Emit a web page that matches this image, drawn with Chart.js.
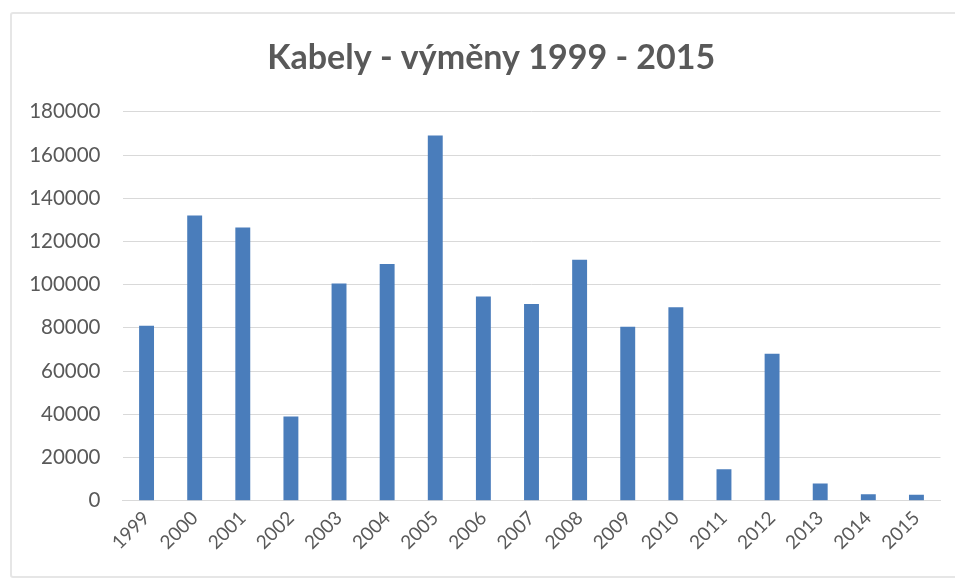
<!DOCTYPE html>
<html>
<head>
<meta charset="utf-8">
<script src="https://cdn.jsdelivr.net/npm/chart.js@4.4.1/dist/chart.umd.min.js"></script>
<style>
  html, body { margin: 0; padding: 0; background: #fff; }
  #wrap { position: relative; width: 955px; height: 583px; overflow: hidden; }
  #frame { position: absolute; left: 10px; top: 12px; width: 960px; height: 566px; border: 2px solid #e6e6e6; border-radius: 3px; box-sizing: border-box; }
  canvas { position: absolute; left: 0; top: 0; }
</style>
</head>
<body>
<div id="wrap">
  <div id="frame"></div>
  <canvas id="c" width="955" height="583"></canvas>
</div>
<script>
const chartTitle = "Kabely - výměny 1999 - 2015";
const years = ["1999","2000","2001","2002","2003","2004","2005","2006","2007","2008","2009","2010","2011","2012","2013","2014","2015"];
const replacements = [81000, 132000, 126500, 39000, 100500, 109500, 169000, 94500, 91000, 111500, 80500, 89500, 14500, 68000, 8000, 3000, 2800];
const yTicks = [0, 20000, 40000, 60000, 80000, 100000, 120000, 140000, 160000, 180000];

const grey = '#595959';
const gridCol = '#d9d9d9';

const shiftTitle = {
  id: 'shiftTitle',
  afterLayout(chart) {
    if (chart.titleBlock) { chart.titleBlock.left = 42; }
  }
};

new Chart(document.getElementById('c'), {
  type: 'bar',
  data: {
    labels: years,
    datasets: [{
      data: replacements,
      backgroundColor: '#4a7dbb',
      borderWidth: 0,
      barPercentage: 1,
      categoryPercentage: 0.31
    }]
  },
  plugins: [shiftTitle],
  options: {
    responsive: false,
    animation: false,
    devicePixelRatio: 1,
    layout: { padding: { left: 0, right: 14.5, top: 0, bottom: 0 } },
    plugins: {
      legend: { display: false },
      tooltip: { enabled: false },
      title: {
        display: true,
        text: chartTitle,
        color: grey,
        font: { family: 'Lato', size: 34, weight: 'bold', lineHeight: 1.2 },
        padding: { top: 38, bottom: 33 }
      }
    },
    scales: {
      x: {
        grid: { display: false, drawTicks: false },
        border: { display: true, color: gridCol, width: 1 },
        ticks: {
          color: grey,
          font: { family: 'Lato', size: 19 },
          maxRotation: 45,
          minRotation: 45,
          padding: 6,
          autoSkip: false
        },
        afterFit: (s) => { s.height = 82.3; }
      },
      y: {
        min: 0,
        max: 180000,
        afterBuildTicks: (s) => { s.ticks = yTicks.map(v => ({ value: v })); },
        grid: { color: gridCol, lineWidth: 1, drawTicks: false },
        border: { display: false },
        ticks: {
          color: grey,
          font: { family: 'Lato', size: 20.5 },
          padding: 22,
          callback: (v) => String(v)
        },
        afterFit: (s) => { s.width = 122.5; }
      }
    }
  }
});
</script>
</body>
</html>
